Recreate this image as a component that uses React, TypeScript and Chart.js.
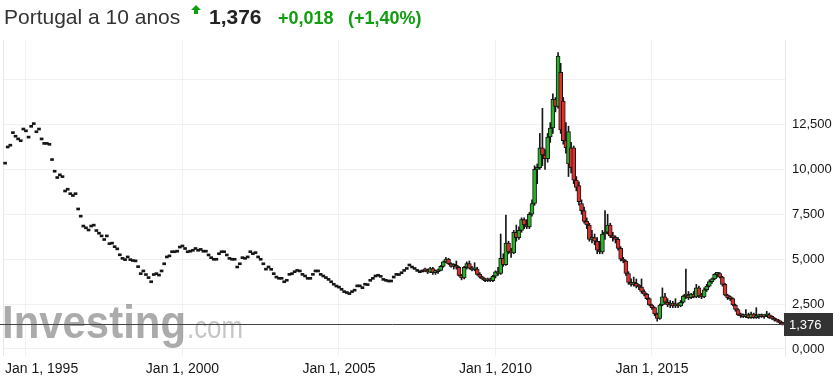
import React, { useEffect, useRef } from 'react';
import { Chart, registerables } from 'chart.js';

Chart.register(...registerables);

// Months are counted from Jan 1995 (0 = Jan 1995).
const DASH_START = -8; // May 1994
// Early monthly closes (single price per month, drawn as flat dashes)
const dashCloses = [
  10.4, 11.3, 11.4, 12.1, 11.9, 11.75, 11.65, 12.3,
  12.2, 11.85, 12.45, 12.6, 12.15, 12.3, 11.75, 11.5, 11.5, 11.45, 10.6, 9.95,
  9.6, 9.75, 9.65, 8.85, 8.95, 8.7, 8.6, 8.7, 7.85, 7.45, 6.9, 6.8,
  6.68, 6.9, 6.95, 6.65, 6.5, 6.35, 6.15, 6.35, 5.92, 5.95, 5.75, 5.63,
  5.3, 5.1, 5.03, 5.18, 5.03, 4.98, 4.96, 4.64, 4.25, 4.4, 4.2, 4.03,
  3.8, 4.2, 4.25, 4.17, 4.4, 4.8, 5.18, 5.24, 5.47, 5.47, 5.5, 5.73,
  5.79, 5.65, 5.47, 5.5, 5.55, 5.65, 5.55, 5.6, 5.5, 5.5, 5.29, 5.14,
  5.05, 5.05, 5.36, 5.47, 5.47, 5.29, 5.1, 5.05, 5.05, 4.62, 4.8, 5.14,
  5.1, 5.18, 5.47, 5.36, 5.42, 5.18, 5.05, 4.8, 4.5, 4.62, 4.49, 4.25,
  4.06, 3.99, 3.99, 3.8, 3.88, 4.21, 4.25, 4.36, 4.43, 4.4, 4.21, 4.12,
  3.99, 3.99, 4.21, 4.4, 4.4, 4.21, 4.12, 4.03, 3.93, 3.8, 3.66, 3.56,
  3.5, 3.38, 3.25, 3.2, 3.14, 3.25, 3.33, 3.57, 3.57, 3.47, 3.66, 3.64,
  3.88, 3.99, 4.12, 4.16, 4.1, 3.93, 3.88, 3.84, 3.84, 4.06, 4.21, 4.2,
  4.3, 4.43, 4.54, 4.73, 4.62, 4.54, 4.43, 4.36, 4.4,
];

const CANDLE_START = 153; // Oct 2007
const candleOpen = [
  4.40, 4.35, 4.28,
  4.48, 4.25, 4.30, 4.38, 4.60, 4.85, 5.00, 4.75, 4.60, 4.65, 4.55, 4.10,
  3.95, 4.55, 4.75, 4.50, 4.40, 4.45, 4.15, 4.00, 3.90, 3.80, 3.85, 3.80,
  4.05, 4.30, 4.20, 5.05, 4.70, 5.90, 5.40, 5.35, 6.50, 6.20, 6.60, 7.20,
  6.90, 6.80, 7.50, 8.10, 10.00, 10.10, 11.20, 10.80, 10.60, 11.80, 12.30, 13.90,
  13.50, 15.40, 13.80, 11.60, 10.30, 11.20, 11.20, 9.40, 9.10, 8.10, 7.70, 7.10,
  6.90, 6.10, 6.20, 6.00, 5.50, 5.40, 6.40, 6.50, 6.90, 6.30, 6.20, 6.10,
  5.60, 5.00, 4.90, 4.20, 3.70, 3.60, 3.65, 3.50, 3.45, 3.20, 3.05, 2.80,
  2.45, 2.30, 1.95, 1.70, 2.45, 2.90, 2.60, 2.45, 2.55, 2.40, 2.45, 2.40,
  2.60, 2.95, 3.00, 2.85, 3.05, 2.90, 3.40, 2.95, 2.90, 3.30, 3.50, 3.75,
  3.90, 4.15, 4.20, 4.00, 3.60, 3.00, 2.85, 2.80, 2.45, 2.20, 1.90, 1.85,
  1.80, 1.90, 1.75, 1.95, 1.75, 1.80, 1.85, 1.80, 1.85, 1.90, 1.75, 1.70,
  1.60, 1.55, 1.45,
];
const candleHigh = [
  4.50, 4.45, 4.55,
  4.55, 4.40, 4.45, 4.65, 4.90, 5.10, 5.05, 4.80, 4.75, 4.90, 4.60, 4.15,
  4.60, 4.85, 4.90, 4.60, 4.80, 4.55, 4.25, 4.05, 3.95, 3.95, 3.95, 4.10,
  4.35, 4.55, 6.40, 5.30, 7.45, 6.00, 5.60, 6.60, 6.90, 6.80, 7.30, 7.30,
  7.20, 7.60, 8.30, 10.20, 10.30, 12.00, 13.40, 11.10, 12.00, 12.60, 14.20, 14.00,
  16.50, 15.90, 14.00, 12.60, 12.40, 11.50, 11.30, 9.60, 9.30, 8.30, 7.90, 7.30,
  7.00, 6.60, 6.40, 6.20, 6.00, 6.60, 7.70, 7.50, 7.00, 6.50, 6.30, 6.20,
  5.70, 5.10, 4.95, 4.30, 3.90, 4.00, 3.90, 3.60, 3.90, 3.30, 3.10, 2.85,
  2.50, 2.35, 2.00, 2.50, 3.40, 3.10, 2.80, 2.70, 2.65, 2.80, 2.55, 2.70,
  3.00, 4.45, 3.20, 3.10, 3.20, 3.60, 3.50, 3.10, 3.40, 3.60, 3.85, 3.95,
  4.20, 4.25, 4.25, 4.05, 3.65, 3.05, 2.95, 2.85, 2.50, 2.25, 2.00, 1.95,
  2.20, 2.00, 2.05, 2.00, 2.30, 1.95, 1.95, 1.90, 2.10, 2.00, 1.85, 1.75,
  1.65, 1.60, 1.50,
];
const candleLow = [
  4.30, 4.20, 4.25,
  4.15, 4.15, 4.20, 4.35, 4.55, 4.80, 4.70, 4.55, 4.45, 4.45, 4.05, 3.85,
  3.90, 4.45, 4.45, 4.35, 4.35, 4.10, 3.95, 3.85, 3.75, 3.75, 3.75, 3.75,
  3.95, 4.10, 4.15, 4.60, 4.65, 5.30, 5.10, 5.30, 6.00, 6.10, 6.50, 6.70,
  6.70, 6.70, 7.40, 8.00, 9.20, 10.00, 10.20, 10.00, 10.40, 11.50, 12.00, 13.20,
  13.40, 12.00, 11.40, 10.90, 9.60, 9.80, 9.20, 8.80, 8.00, 7.50, 7.00, 6.70,
  6.00, 5.90, 5.80, 5.30, 5.30, 5.30, 6.10, 6.40, 6.20, 6.00, 5.90, 5.50,
  4.90, 4.80, 4.10, 3.60, 3.50, 3.50, 3.40, 3.30, 3.10, 2.95, 2.75, 2.40,
  2.20, 1.85, 1.55, 1.65, 2.40, 2.50, 2.35, 2.30, 2.30, 2.30, 2.30, 2.35,
  2.55, 2.80, 2.75, 2.80, 2.85, 2.85, 2.85, 2.80, 2.85, 3.20, 3.45, 3.65,
  3.85, 4.00, 3.95, 3.50, 2.95, 2.75, 2.70, 2.40, 2.10, 1.85, 1.75, 1.75,
  1.75, 1.70, 1.70, 1.70, 1.70, 1.70, 1.75, 1.70, 1.80, 1.70, 1.65, 1.55,
  1.50, 1.40, 1.33,
];
const candleClose = [
  4.35, 4.28, 4.48,
  4.25, 4.30, 4.38, 4.60, 4.85, 5.00, 4.75, 4.60, 4.65, 4.55, 4.10, 3.95,
  4.55, 4.75, 4.50, 4.40, 4.45, 4.15, 4.00, 3.90, 3.80, 3.85, 3.80, 4.05,
  4.30, 4.20, 5.05, 4.70, 5.90, 5.40, 5.35, 6.50, 6.20, 6.60, 7.20, 6.90,
  6.80, 7.50, 8.10, 10.00, 10.10, 11.20, 10.80, 10.60, 11.80, 12.30, 13.90, 13.50,
  16.30, 12.20, 11.60, 11.20, 12.10, 10.10, 9.40, 9.00, 8.20, 7.70, 7.10, 6.90,
  6.10, 6.20, 6.00, 5.50, 5.40, 6.40, 6.50, 6.90, 6.30, 6.20, 6.10, 5.60,
  5.00, 4.90, 4.20, 3.70, 3.60, 3.65, 3.50, 3.45, 3.20, 3.05, 2.80, 2.45,
  2.30, 1.95, 1.70, 2.45, 2.90, 2.60, 2.45, 2.55, 2.40, 2.45, 2.40, 2.60,
  2.95, 3.00, 2.85, 3.05, 2.90, 3.40, 2.95, 2.90, 3.30, 3.50, 3.75, 3.90,
  4.15, 4.20, 4.00, 3.60, 3.00, 2.85, 2.80, 2.45, 2.20, 1.90, 1.85, 1.80,
  1.90, 1.75, 1.95, 1.75, 1.80, 1.85, 1.80, 1.85, 1.90, 1.75, 1.70, 1.60,
  1.55, 1.45, 1.376,
];

const yTicks = [0, 2.5, 5, 7.5, 10, 12.5, 15];
const xTickMonths = [0, 60, 120, 180, 240];
const xTickLabels = ['Jan 1, 1995', 'Jan 1, 2000', 'Jan 1, 2005', 'Jan 1, 2010', 'Jan 1, 2015'];
const lastPrice = 1.376;
const lastPriceLabel = '1,376';
const titleText = 'Portugal a 10 anos';
const priceText = '1,376';
const changeText = '+0,018';
const changePctText = '(+1,40%)';

const FONT = '"Liberation Sans", Arial, Helvetica, sans-serif';
const GREEN = '#27b227';
const RED = '#e0302b';
const INK = '#161616';

const watermarkPlugin = {
  id: 'watermark',
  beforeDatasetsDraw(chart: any) {
    const { ctx } = chart;
    ctx.save();
    ctx.textBaseline = 'alphabetic';
    ctx.font = `bold 46px ${FONT}`;
    const w1 = ctx.measureText('Investing').width;
    ctx.translate(2, 338);
    ctx.scale(184 / w1, 1);
    ctx.fillStyle = 'rgba(120,120,120,0.62)';
    ctx.fillText('Investing', 0, 0);
    ctx.restore();
    ctx.save();
    ctx.font = `32px ${FONT}`;
    const w2 = ctx.measureText('.com').width;
    ctx.translate(187, 338);
    ctx.scale(56 / w2, 1);
    ctx.fillStyle = 'rgba(150,150,150,0.55)';
    ctx.fillText('.com', 0, 0);
    ctx.restore();
  },
};

const priceLinePlugin = {
  id: 'priceLine',
  afterDatasetsDraw(chart: any) {
    const { ctx, chartArea } = chart;
    const y = Math.round(chart.scales.y.getPixelForValue(lastPrice)) + 0.5;
    ctx.save();
    ctx.strokeStyle = '#444';
    ctx.lineWidth = 1;
    ctx.beginPath();
    ctx.moveTo(0, y);
    ctx.lineTo(chartArea.right, y);
    ctx.stroke();
    ctx.fillStyle = '#333';
    ctx.fillRect(chartArea.right - 1, y - 11.5, 49, 23);
    ctx.fillStyle = '#fff';
    ctx.font = `13px ${FONT}`;
    ctx.textBaseline = 'middle';
    ctx.fillText(lastPriceLabel, chartArea.right + 4, y + 1);
    ctx.restore();
  },
};

const frameAndLabelsPlugin = {
  id: 'frameLabels',
  beforeDatasetsDraw(chart: any) {
    const { ctx, chartArea } = chart;
    ctx.save();
    ctx.strokeStyle = '#e4e7ee';
    ctx.lineWidth = 1;
    ctx.beginPath();
    ctx.moveTo(chartArea.left + 0.5, chartArea.top);
    ctx.lineTo(chartArea.left + 0.5, chartArea.bottom);
    ctx.stroke();
    ctx.restore();
  },
  afterDraw(chart: any) {
    const { ctx, chartArea } = chart;
    const xs = chart.scales.x;
    ctx.save();
    ctx.font = `14px ${FONT}`;
    ctx.fillStyle = INK;
    ctx.textBaseline = 'alphabetic';
    xTickMonths.forEach((m, i) => {
      const px = xs.getPixelForValue(m);
      const w = ctx.measureText(xTickLabels[i]).width;
      const left = Math.max(px - w / 2, chartArea.left + 2);
      ctx.fillText(xTickLabels[i], left, 373);
    });
    ctx.restore();
  },
};

export default function App() {
  const ref = useRef<HTMLCanvasElement | null>(null);

  useEffect(() => {
    if (!ref.current) return;
    const dashData = dashCloses.map((c, i) => ({ x: DASH_START + i, y: [c, c] }));
    const bodyData = candleClose.map((c, i) => ({ x: CANDLE_START + i, y: [candleOpen[i], c] }));
    const wickData = candleClose.map((_, i) => ({ x: CANDLE_START + i, y: [candleLow[i], candleHigh[i]] }));
    const bodyColors = candleClose.map((c, i) => (c >= candleOpen[i] ? GREEN : RED));

    const chart = new Chart(ref.current, {
      type: 'bar',
      data: {
        datasets: [
          {
            data: bodyData as any,
            backgroundColor: bodyColors,
            borderColor: INK,
            borderWidth: 1,
            borderSkipped: false,
            barThickness: 4,
            minBarLength: 2,
            grouped: false,
            order: 0,
          } as any,
          {
            data: dashData as any,
            backgroundColor: INK,
            borderWidth: 0,
            barThickness: 3,
            minBarLength: 2,
            grouped: false,
            order: 1,
          } as any,
          {
            data: wickData as any,
            backgroundColor: INK,
            borderWidth: 0,
            barThickness: 1,
            grouped: false,
            order: 2,
          } as any,
        ],
      },
      options: {
        animation: false,
        responsive: false,
        maintainAspectRatio: false,
        layout: { padding: { top: 40, left: 3, right: 0, bottom: 0 } },
        plugins: { legend: { display: false }, tooltip: { enabled: false } },
        scales: {
          x: {
            type: 'linear',
            min: -8.8,
            max: 291,
            offset: false,
            grid: { color: '#eff1f5', drawTicks: false, offset: false },
            border: { display: false },
            ticks: { display: false },
            afterBuildTicks: (s: any) => {
              s.ticks = xTickMonths.map((v) => ({ value: v }));
            },
            afterFit: (s: any) => {
              s.height = 28;
            },
          },
          y: {
            position: 'right',
            min: -0.39,
            max: 17.2,
            grid: { color: '#eff1f5', drawTicks: false },
            border: { color: '#e4e7ee' },
            ticks: {
              padding: 7,
              color: INK,
              font: { size: 13, family: FONT },
              callback: (v: any) => (Number(v) > 12.5 ? '' : Number(v).toFixed(3).replace('.', ',')),
            },
            afterBuildTicks: (s: any) => {
              s.ticks = yTicks.map((v) => ({ value: v }));
            },
            afterFit: (s: any) => {
              s.width = 55;
            },
          },
        },
      } as any,
      plugins: [watermarkPlugin, frameAndLabelsPlugin, priceLinePlugin],
    });
    return () => chart.destroy();
  }, []);

  const green = '#0e9e0e';
  return (
    <div style={{ position: 'absolute', left: 0, top: 0, width: 840, height: 384, background: '#fff', fontFamily: FONT }}>
      <canvas ref={ref} width={840} height={384} style={{ position: 'absolute', left: 0, top: 0 }} />
      <div style={{ position: 'absolute', left: 4, top: 5, fontSize: 21, lineHeight: '24px', color: '#333', whiteSpace: 'nowrap' }}>
        {titleText}
      </div>
      <svg width={10} height={10} style={{ position: 'absolute', left: 191, top: 5 }}>
        <polygon points="5,0 10,5 7,5 7,9 3,9 3,5 0,5" fill={green} />
      </svg>
      <div style={{ position: 'absolute', left: 209, top: 5, fontSize: 21, lineHeight: '24px', fontWeight: 'bold', color: '#222' }}>
        {priceText}
      </div>
      <div style={{ position: 'absolute', left: 278, top: 7, fontSize: 18, lineHeight: '22px', fontWeight: 'bold', color: green }}>
        {changeText}
      </div>
      <div style={{ position: 'absolute', left: 348, top: 7, fontSize: 18, lineHeight: '22px', fontWeight: 'bold', color: green }}>
        {changePctText}
      </div>
    </div>
  );
}
